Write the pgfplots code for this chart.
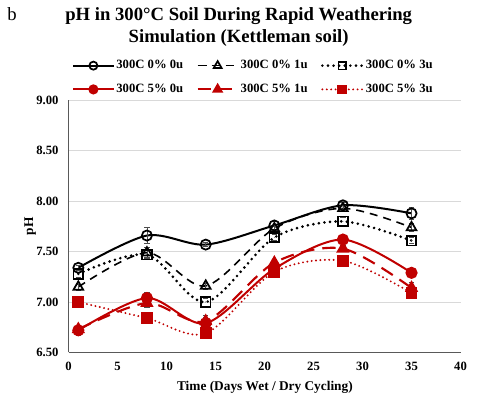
\documentclass[border=0pt]{standalone}
\usepackage{fontspec}
\setmainfont{Liberation Serif}
\usepackage{pgfplots}
\pgfplotsset{compat=1.18}
\definecolor{dred}{HTML}{C00000}
\definecolor{gridc}{HTML}{D9D9D9}
\definecolor{axc}{HTML}{595959}
\begin{document}
\begin{tikzpicture}[x=1pt,y=1pt]
\path (0,0) rectangle (360,302.25);
\node[font=\fontsize{14}{16}\selectfont] at (9,291.5) {b};
\node[font=\fontsize{14}{16}\selectfont\bfseries, align=center] at (179,290.5) {pH in 300\textdegree C Soil During Rapid Weathering};
\node[font=\fontsize{14}{16}\selectfont\bfseries, align=center] at (179,273.5) {Simulation (Kettleman soil)};
\begin{axis}[
  at={(51.4pt,37.9pt)}, anchor=south west,
  width=294pt, height=189pt, scale only axis,
  xmin=0, xmax=40, ymin=6.5, ymax=9,
  xtick={0,5,...,40}, ytick={6.5,7,7.5,8,8.5,9},
  axis x line=bottom, axis y line=left,
  axis line style={axc, line width=0.8pt, -},
  major tick length=0pt,
  ymajorgrids, grid style={gridc, line width=0.6pt},
  /pgf/number format/assume math mode=true,
  tick label style={font=\fontsize{9.5}{11}\selectfont\bfseries},
  yticklabel={\pgfmathprintnumber[fixed,fixed zerofill,precision=2]{\tick}},
  xticklabel style={yshift=-4pt},
  yticklabel style={xshift=-4pt},
  xlabel={Time (Days Wet / Dry Cycling)},
  ylabel={pH},
  label style={font=\fontsize{10}{12}\selectfont\bfseries},
  xlabel style={at={(axis description cs:0.501,-0.137)}, anchor=center},
  ylabel style={at={(axis description cs:-0.098,0.5)}, anchor=center, rotate=0},
  legend columns=3,
  legend style={draw=none, fill=none, at={(0.472,1)}, anchor=center, yshift=17.2pt,
    font=\fontsize{9.5}{11}\selectfont\bfseries, row sep=6pt,
    nodes={inner xsep=1.5pt},
    /tikz/every even column/.append style={column sep=8.5pt}},
  legend cell align=left,
  legend image code/.code={\draw[mark repeat=2,mark phase=2,every mark/.append style={scale=0.8}] plot coordinates {(0pt,0pt) (15pt,0pt) (30pt,0pt)};},
  error bars/error bar style={black!70, line width=0.5pt},
  error bars/error mark options={rotate=90, mark size=2pt, black!70, line width=0.5pt},
]
\addplot[black, line width=1.5pt, smooth, mark=o, mark size=3.8pt, mark options={solid, fill=white, line width=1.3pt},
  error bars/.cd, y dir=both, y explicit] coordinates {
  (1,7.34) +- (0,0.02) (8,7.66) +- (0,0.08) (14,7.57) +- (0,0.02) (21,7.76) +- (0,0.04) (28,7.96) +- (0,0.03) (35,7.88) +- (0,0.06)};
\addlegendentry{300C 0\% 0u}
\addplot[black, line width=1.2pt, smooth, dash pattern=on 6pt off 4.5pt, mark=triangle, mark size=4.2pt, mark options={solid, fill=white, line width=1.3pt},
  error bars/.cd, y dir=both, y explicit] coordinates {
  (1,7.15) +- (0,0.03) (8,7.49) +- (0,0.05) (14,7.16) +- (0,0.03) (21,7.73) +- (0,0.03) (28,7.93) +- (0,0.03) (35,7.74) +- (0,0.04)};
\addlegendentry{300C 0\% 1u}
\addplot[black, line width=2.2pt, smooth, line cap=round, dash pattern=on 0pt off 4.2pt, mark=square, mark size=3.6pt, mark options={solid, fill=white, line width=1.3pt},
  error bars/.cd, y dir=both, y explicit] coordinates {
  (1,7.28) +- (0,0.03) (8,7.47) +- (0,0.04) (14,7.00) +- (0,0.04) (21,7.64) +- (0,0.03) (28,7.80) +- (0,0.04) (35,7.61) +- (0,0.03)};
\addlegendentry{300C 0\% 3u}
\addplot[dred, line width=1.5pt, smooth, mark=*, mark size=3.8pt, mark options={solid, fill=dred},
  error bars/.cd, y dir=both, y explicit] coordinates {
  (1,6.72) +- (0,0.05) (8,7.04) +- (0,0.06) (14,6.79) +- (0,0.06) (21,7.33) +- (0,0.03) (28,7.62) +- (0,0.03) (35,7.29) +- (0,0.03)};
\addlegendentry{300C 5\% 0u}
\addplot[dred, line width=1.6pt, smooth, dash pattern=on 10pt off 6pt, mark=triangle*, mark size=4.2pt, mark options={solid, fill=dred},
  error bars/.cd, y dir=both, y explicit] coordinates {
  (1,6.73) +- (0,0.03) (8,6.99) +- (0,0.04) (14,6.81) +- (0,0.06) (21,7.39) +- (0,0.03) (28,7.53) +- (0,0.03) (35,7.14) +- (0,0.06)};
\addlegendentry{300C 5\% 1u}
\addplot[dred, line width=1.6pt, smooth, line cap=round, dash pattern=on 0pt off 3.3pt, mark=square*, mark size=3.6pt, mark options={solid, fill=dred},
  error bars/.cd, y dir=both, y explicit] coordinates {
  (1,7.00) +- (0,0.04) (8,6.84) +- (0,0.03) (14,6.69) +- (0,0.05) (21,7.30) +- (0,0.03) (28,7.41) +- (0,0.04) (35,7.09) +- (0,0.05)};
\addlegendentry{300C 5\% 3u}
\end{axis}
\end{tikzpicture}
\end{document}
